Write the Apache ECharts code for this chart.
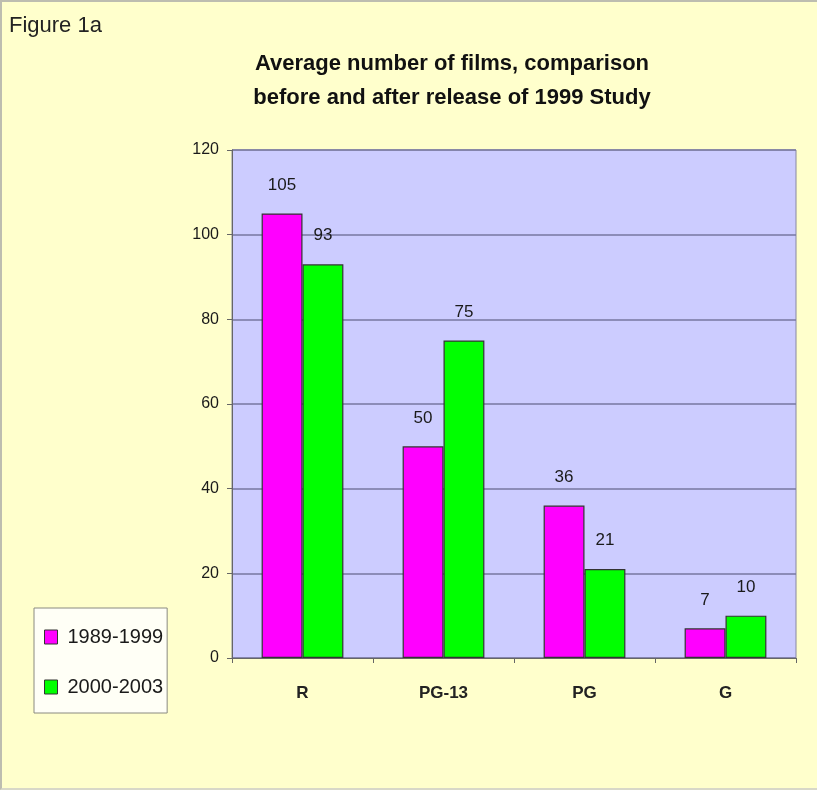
<!DOCTYPE html>
<html>
<head>
<meta charset="utf-8">
<script src="https://cdn.jsdelivr.net/npm/echarts@6/dist/echarts.min.js"></script>
<style>
  html, body { margin: 0; padding: 0; background: #FFFFCC; }
  #chart { width: 817px; height: 790px; box-sizing: border-box; border-left: 2px solid #BDBDB0; border-top: 2px solid #BDBDB0; border-bottom: 2px solid #D8D8C8; }
</style>
</head>
<body>
<div id="chart"></div>
<script>
// Film ratings and average counts per period
const categories = ['R', 'PG-13', 'PG', 'G'];
const seriesNames = ['1989-1999', '2000-2003'];
const before1999 = [105, 50, 36, 7];
const after1999 = [93, 75, 21, 10];
const yTicks = { min: 0, max: 120, interval: 20 };

const font = 'Liberation Sans, Arial, sans-serif';
const chart = echarts.init(document.getElementById('chart'), null, { renderer: 'canvas' });

const barLabel = {
  show: true,
  position: 'top',
  distance: 20,
  color: '#1a1a1a',
  fontFamily: font,
  fontSize: 17
};

chart.setOption({
  backgroundColor: '#FFFFCC',
  animation: false,
  title: [
    {
      text: 'Figure 1a',
      left: 2,
      top: 8,
      textStyle: { fontFamily: font, fontWeight: 'normal', fontSize: 22, color: '#222' }
    },
    {
      text: 'Average number of films, comparison\nbefore and after release of 1999 Study',
      left: 445,
      top: 40,
      textAlign: 'center',
      textStyle: { fontFamily: font, fontWeight: 'bold', fontSize: 22, lineHeight: 34, color: '#111' }
    }
  ],
  legend: {
    orient: 'vertical',
    left: 32,
    top: 606,
    width: 136,
    padding: [19, 4, 16, 10],
    itemGap: 30,
    itemWidth: 13,
    itemHeight: 14,
    backgroundColor: '#FFFFF6',
    borderColor: '#8A8A80',
    borderWidth: 1,
    icon: 'rect',
    itemStyle: { borderColor: '#333', borderWidth: 1 },
    textStyle: { fontFamily: font, fontSize: 20, color: '#1a1a1a', padding: [0, 0, 0, 5] },
    data: seriesNames
  },
  grid: {
    left: 230,
    top: 148,
    right: 21,
    bottom: 130,
    show: true,
    backgroundColor: '#CCCCFF',
    borderColor: '#8888A0',
    borderWidth: 1
  },
  xAxis: {
    type: 'category',
    data: categories,
    axisLine: { lineStyle: { color: '#666', width: 1 } },
    axisTick: { show: true, inside: false, length: 5, lineStyle: { color: '#666' } },
    axisLabel: { margin: 27, fontFamily: font, fontWeight: 'bold', fontSize: 17, color: '#222' }
  },
  yAxis: {
    type: 'value',
    min: yTicks.min,
    max: yTicks.max,
    interval: yTicks.interval,
    axisLine: { show: true, lineStyle: { color: '#666', width: 1 } },
    axisTick: { show: true, length: 5, lineStyle: { color: '#666' } },
    axisLabel: { margin: 13, fontFamily: font, fontSize: 16, color: '#1a1a1a' },
    splitLine: { lineStyle: { color: '#7777A0', width: 1.5 } }
  },
  series: [
    {
      name: seriesNames[0],
      type: 'bar',
      data: before1999,
      barGap: '0%',
      barCategoryGap: '42%',
      itemStyle: { color: '#FF00FF', borderColor: '#333', borderWidth: 1.2 },
      label: barLabel
    },
    {
      name: seriesNames[1],
      type: 'bar',
      data: after1999,
      barGap: '0%',
      barCategoryGap: '42%',
      itemStyle: { color: '#00FF00', borderColor: '#333', borderWidth: 1.2 },
      label: barLabel
    }
  ]
});
</script>
</body>
</html>
